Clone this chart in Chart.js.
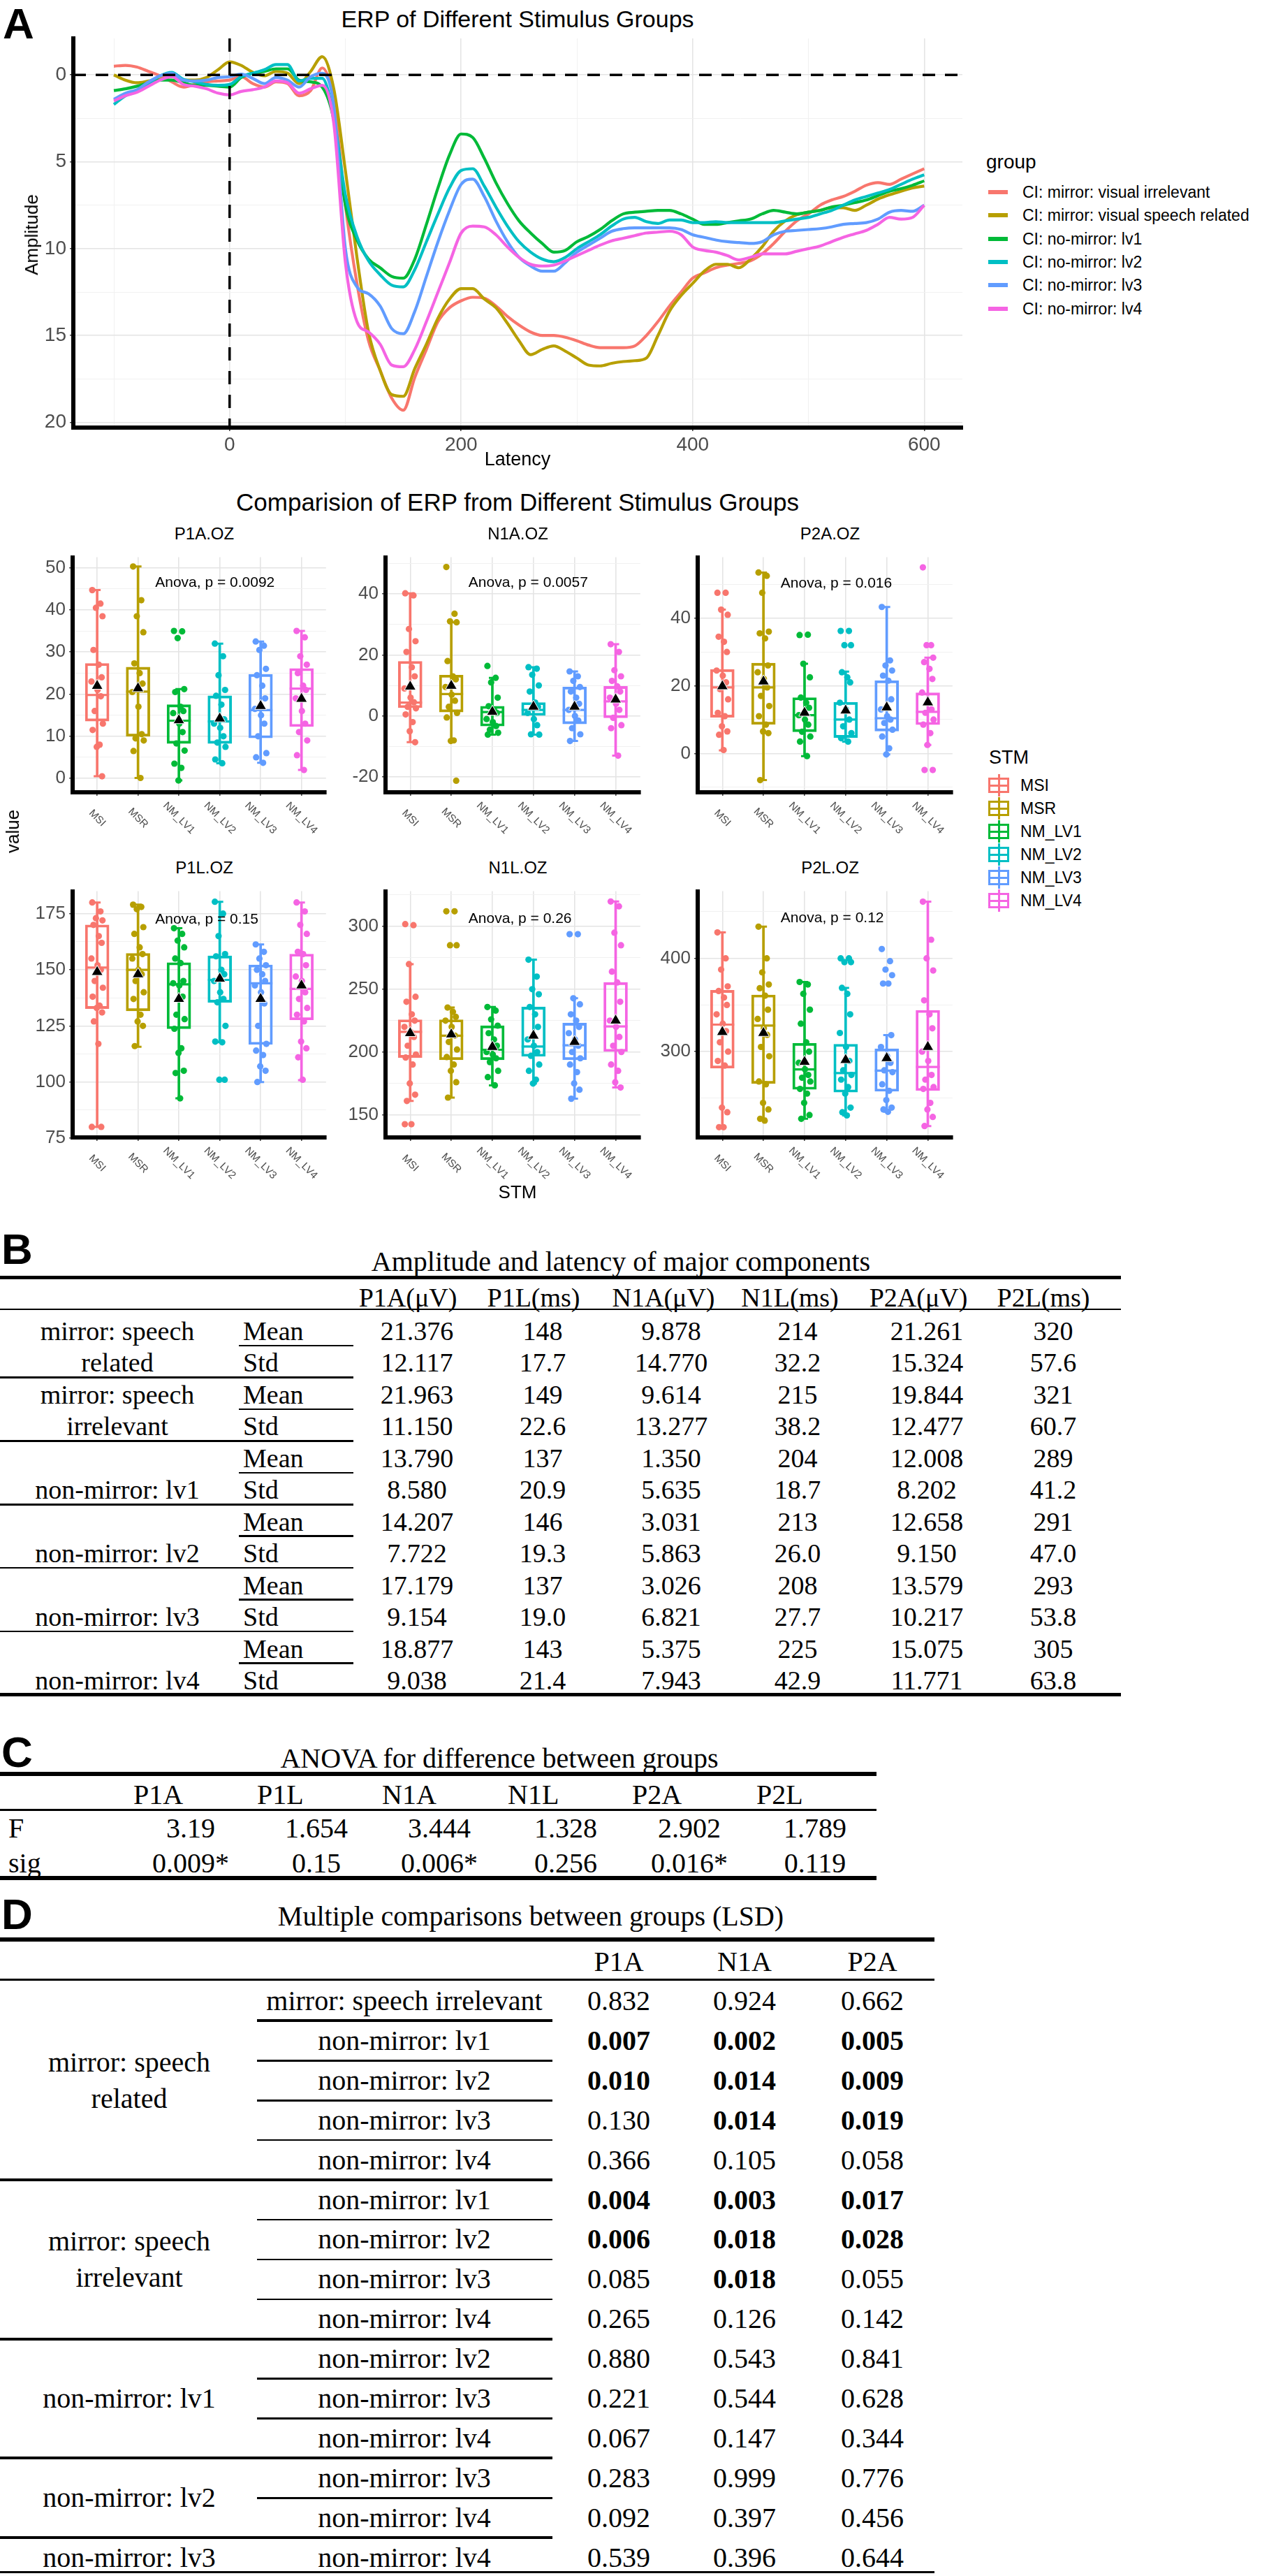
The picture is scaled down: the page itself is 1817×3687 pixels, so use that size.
<!DOCTYPE html>
<html>
<head>
<meta charset="utf-8">
<script src="https://cdn.jsdelivr.net/npm/chart.js@4.4.1/dist/chart.umd.min.js"></script>
<style>
  body { margin: 0; width: 1817px; height: 3687px; position: relative; overflow: hidden; background: #fff;
         font-family: "Liberation Sans", Arial, sans-serif; color: #000; }
  .abs { position: absolute; white-space: nowrap; line-height: 1; }
  .ser { font-family: "Liberation Serif", "Times New Roman", serif; }
  .rule { position: absolute; background: #000; }
  canvas { position: absolute; }
</style>
</head>
<body>
<script>
// ---------------- panel A data: grand average ERP ----------------
const erpTimes = [-100,-90,-80,-70,-60,-50,-40,-30,-20,-10,0,10,20,30,40,50,60,70,80,90,100,110,120,130,140,150,160,170,180,190,200,210,220,230,240,250,260,270,280,290,300,310,320,330,340,350,360,370,380,390,400,410,420,430,440,450,460,470,480,490,500,510,520,530,540,550,560,570,580,590,600];

const erpIrrelevant = [-0.5,-0.55,-0.45,-0.2,0.05,0.4,0.7,0.55,0.4,0.35,0.3,0.1,0.5,0.7,0.4,0.5,1.2,0.9,
  -0.4,1.5,7.5,12.0,15.3,17.0,18.6,19.3,
  17.4,15.8,14.2,13.4,13.0,12.8,12.85,13.3,13.9,14.4,
  14.8,15.0,15.0,15.1,15.3,15.55,15.7,15.7,15.7,15.6,
  15.0,14.2,13.3,12.5,11.7,11.4,11.1,10.95,10.85,10.7,
  10.3,9.7,9.0,8.4,8.0,7.5,7.2,7.0,6.7,6.35,
  6.2,6.3,6.0,5.7,5.4];
const erpSpeech = [0,0.3,0.45,0.35,0.25,0.1,0.3,0.3,0.15,-0.3,-0.75,-0.55,-0.15,0.05,-0.2,-0.1,0.5,-0.2,
  -1.05,0.8,5.5,10.5,14.8,17.0,18.4,18.5,
  16.9,15.5,14.0,12.9,12.3,12.3,12.9,13.4,14.3,15.3,
  16.1,15.8,15.6,15.9,16.3,16.7,16.75,16.6,16.5,16.45,
  16.3,15.0,13.6,12.7,12.0,11.3,10.9,10.9,11.1,10.6,
  9.9,9.0,8.4,8.05,7.9,7.8,7.65,7.65,7.8,7.5,
  7.15,6.9,6.7,6.5,6.4];
const erpLv1 = [0.9,0.8,0.65,0.45,0.3,0.3,0.45,0.6,0.6,0.65,0.7,0.15,-0.1,-0.2,-0.35,-0.35,0.3,0.4,
  0.7,2.6,7.5,9.5,10.6,11.1,11.6,11.7,
  10.6,8.6,6.5,4.6,3.4,3.6,4.8,6.2,7.4,8.4,
  9.1,9.7,10.2,10.1,9.6,9.3,8.9,8.4,8.0,7.9,
  7.85,7.8,7.8,8.0,8.3,8.6,8.6,8.5,8.4,8.3,
  8.0,7.8,7.9,8.0,7.9,7.8,7.6,7.5,7.35,7.2,
  6.95,6.7,6.55,6.35,6.1];
const erpLv2 = [1.7,1.2,0.95,0.5,0.05,-0.15,0.25,0.4,0.55,0.6,0.55,0.1,-0.1,-0.3,-0.6,-0.6,0.35,0.2,
  0.2,2.4,6.9,9.3,10.7,11.5,12.1,12.2,
  11.2,9.6,8.0,6.5,5.5,5.4,6.4,7.6,8.7,9.6,
  10.2,10.6,10.75,10.5,10.0,9.6,9.2,8.7,8.3,8.2,
  8.45,8.55,8.35,8.35,8.5,8.5,8.45,8.5,8.5,8.5,
  8.5,8.5,8.4,8.3,8.2,8.0,7.8,7.5,7.2,7.0,
  6.8,6.6,6.3,6.0,5.75];
const erpLv3 = [1.4,1.05,0.85,0.4,0.05,-0.1,0.3,0.35,0.3,0.15,0.1,-0.05,0.2,0.5,0.15,0.3,0.7,0.1,
  -0.1,1.8,10.0,12.2,12.6,13.3,14.6,14.9,
  13.6,11.6,9.6,7.8,6.3,6.0,7.0,8.4,9.6,10.5,
  11.0,11.3,11.3,10.8,10.2,9.8,9.4,9.0,8.85,8.8,
  8.8,8.8,8.8,8.9,9.2,9.35,9.5,9.6,9.65,9.7,
  9.6,9.2,9.0,8.95,8.9,8.85,8.75,8.6,8.55,8.5,
  8.3,7.9,7.8,7.85,7.5];
const erpLv4 = [1.5,1.2,1.0,0.65,0.3,0.1,0.55,0.65,0.8,1.05,1.15,0.95,0.85,0.7,0.35,0.45,1.05,0.8,
  0.6,2.8,10.8,14.2,14.8,15.5,16.7,16.8,
  15.8,14.2,12.5,10.8,9.1,8.7,8.75,9.2,9.9,10.5,
  10.9,11.0,10.95,10.7,10.4,10.1,9.8,9.55,9.4,9.25,
  9.1,9.05,9.0,9.2,9.9,10.1,10.2,10.4,10.65,10.5,
  10.3,10.3,10.3,10.15,10.0,9.85,9.6,9.35,9.15,8.95,
  8.6,8.2,8.3,8.2,7.5];

const erpNames = ['CI: mirror: visual irrelevant','CI: mirror: visual speech related','CI: no-mirror: lv1',
                  'CI: no-mirror: lv2','CI: no-mirror: lv3','CI: no-mirror: lv4'];
const erpSeries = [erpIrrelevant, erpSpeech, erpLv1, erpLv2, erpLv3, erpLv4];
const erpXMajor = [0,200,400,600];
const erpXMinor = [-100,100,300,500];
const erpYMajor = [0,5,10,15,20];
const erpYMinor = [2.5,7.5,12.5,17.5];

// ---------------- panel A data: box plots ----------------
const GROUPS = ['MSI','MSR','NM_LV1','NM_LV2','NM_LV3','NM_LV4'];
const COLORS = ['#F8766D','#B79F00','#00BA38','#00BFC4','#619CFF','#F564E3'];

// per group: [lower whisker, Q1, median, Q3, upper whisker, mean]
const p1aStats = [[0.5,13.6,19.8,27.3,44.7,21.96],[0.1,10.0,20.6,26.4,50.3,21.38],[-0.5,8.3,13.7,17.5,21.2,13.79],
                  [3.6,8.3,13.5,19.6,32.0,14.21],[3.7,9.6,16.2,24.7,32.5,17.18],[2.0,12.3,21.3,26.1,35.0,18.88]];
const n1aStats = [[-8.6,2.7,4.4,17.9,40.2,9.61],[-8.2,1.3,7.2,13.4,30.7,9.88],[-6.1,-3.3,1.3,3.2,12.5,1.35],
                  [-6.1,0.0,2.0,4.4,16.0,3.03],[-8.2,-2.6,2.0,9.5,14.6,3.03],[-13.0,-0.6,4.8,9.7,23.5,5.38]];
const p2aStats = [[0.9,10.7,19.5,24.8,42.5,19.84],[-7.9,8.6,19.5,26.7,53.5,21.26],[-0.8,6.4,11.3,16.5,26.5,12.01],
                  [3.5,4.7,10.0,15.1,24.2,12.66],[-0.3,6.6,10.4,21.5,43.3,13.58],[2.5,8.5,12.3,17.9,28.3,15.08]];
const p1lStats = [[80,132.7,151,170,180,149],[115.7,131.7,150,157.3,179,148],[92.7,123.7,143.5,153.2,168.5,137],
                  [117.7,135.5,145.5,156.2,180.3,146],[100,116.7,144,152.2,161.3,137],[100.8,127.7,141.5,157,180,143]];
const n1lStats = [[161,195.6,216,225.7,270,215],[163.7,193.8,213,225.7,235.4,214],[173.5,193.8,201.8,220.9,235.8,204],
                  [174.9,196.5,204.4,235.8,273.5,213],[162.8,193.8,205.3,223,242.8,208],[171.7,200.4,220.4,255.4,319.8,225]];
const p2lStats = [[219,282.3,329,365.8,427.8,321],[228,265.8,328,360.8,434,320],[228,259.5,281,308.9,374.7,289],
                  [231.6,256.5,277,308,368.4,291],[235.5,257.5,279.7,303,317.7,293],[220.2,258.2,283.5,344.3,460.8,305]];

// individual subjects, per group
const p1aPts = [
  [44.7,41.5,40.5,38.5,30.5,27,24,23,21,19.5,16,13,11.5,8,7.5,0.5],
  [50.3,42.3,38.5,34.7,27.3,25,22.5,20.5,17,10.5,9.5,9,6.5,0.1],
  [35,34.9,33.3,21.2,20.5,17,16,15.5,13,11,8.3,6.6,3.5,2.5,-0.5],
  [32,29,24.5,21,19.6,17.5,14,13,12,10,8.5,7.5,4.5,3.6],
  [32.5,31.5,30.5,26,24.5,22,19,16.5,15,13,10,6,5,3.7],
  [35,33.5,29,27,25,22,21,19,16,13,11,9,5.5,2]];
const n1aPts = [
  [40.2,39.5,28.5,24.5,21,16,13,9,6,4.5,3,2.5,0.5,-2,-5,-8.6],
  [48.8,33.5,31,30.7,18,13,12,9.5,7,5,3,1,-0.5,-8,-8.2,-21.2],
  [16.4,12.5,11,6,3.2,2,1,-1,-2,-3.3,-4.5,-5.5,-6.1],
  [16,15.5,13.5,10,8,4.4,3,1,-1,-3,-6,-6.1],
  [14.6,13,11.5,9.5,8,6,4,2,0,-1.5,-4,-6,-8.2],
  [23.5,21,15,13,11.5,9.7,8,6,4,2,-0.6,-3,-4,-13]];
const p2aPts = [
  [47.5,47.5,42.5,41,34.5,33,30,24.5,23,21,19,16,12,11,8,6.5,5.5,1],
  [53.5,52.5,47.5,36,35.5,34,26,24,22,19.5,17,14,11,8.5,6.5,6,-7.9],
  [35,35.1,26.5,22.5,16.5,15,13.5,11.3,10,8.5,6.4,5,3.5,-0.8],
  [36.2,36.2,32,32,24,22.5,21,15,13,10,8,6,4.5,3.5],
  [43.3,27.5,26,24.5,23,21.5,16,13,11,10,9,7,5,1.5,-0.3],
  [55,32,32,28.3,27,25,22,18,15,13,12,10,8.5,6,2.5,-4.9,-4.9]];
const p1lPts = [
  [180,176,173,172,170,165,162,155,152,150,145,142,138,134,133,131,127,117,80,80],
  [179,178,177,169,166,160,157,155,150,148,145,140,137,130,127,125,116],
  [168.5,166,163,160,155,153,145,144,143,138,130,128,123.7,115,113,105,104,92.7],
  [180.3,175,165,157,156,150,148,145,140,137,135.5,125,118,117.7,101,101],
  [161.3,158,155,152,150,148,145,143,140,135,125,117,114,112,107,105,100],
  [180,176,170,166,158,157,152,147,145,140,137,133,130,127,118,115,111,101]];
const n1lPts = [
  [301.8,301,270,244,240,230,225,220,216,212,205,198,195.6,190,175,166,161,142.5,142.5],
  [312,312,285,285,235.4,232,228,225,220,213,208,202,196,190,185,176,163.7],
  [235.8,233,226,221,215,210,205,200,198,195,192,185,180,173.5],
  [273.5,260,250,246,235.8,230,220,210,205,200,197,190,185,178,174.9],
  [293.8,293.8,242.8,238,230,225,220,215,210,205,200,195,190,184,175,170,162.8],
  [319.8,316,295,285,264,255.4,240,225,220,212,205,200,190,185,176,171.7]];
const p2lPts = [
  [427.8,400,388,370,365,358,350,340,330,322,310,300,290,285,240,235,219,219],
  [434,400,385,372,368,360,345,335,325,318,305,295,268,265,245,238,228,226],
  [374.7,372,362,345,330,310,300,288,281,275,272,268,260,255,245,232,228],
  [400,400,396,396,368.4,362,340,320,305,290,280,275,270,262,255,240,235,231.6],
  [410,397,388,382,373,373,317.7,305,295,288,280,278,265,258,248,240,238,235.5],
  [460.8,420,400,387,355,340,325,300,290,275,270,262,260,245,238,230,220.2]];

const panelNames = ['P1A.OZ','N1A.OZ','P2A.OZ','P1L.OZ','N1L.OZ','P2L.OZ'];
const anovaText = ['Anova, p = 0.0092','Anova, p = 0.0057','Anova, p = 0.016','Anova, p = 0.15','Anova, p = 0.26','Anova, p = 0.12'];
const anovaAt = [46.5, 43.7, 50.3, 172.5, 306, 443];
const yMajors = [[0,10,20,30,40,50],[-20,0,20,40],[0,20,40],[75,100,125,150,175],[150,200,250,300],[300,400]];
const yMinors = [[5,15,25,35,45],[-10,10,30,50],[-10,10,30,50],[87.5,112.5,137.5,162.5],[175,225,275,325],[250,350,450]];

// ---------------- tables ----------------
const tbHead = ['P1A(μV)','P1L(ms)','N1A(μV)','N1L(ms)','P2A(μV)','P2L(ms)'];
const tbGroups = [['mirror: speech','related'],['mirror: speech','irrelevant'],['non-mirror: lv1'],['non-mirror: lv2'],['non-mirror: lv3'],['non-mirror: lv4']];
const tbMean = [
  ['21.376','148','9.878','214','21.261','320'],
  ['21.963','149','9.614','215','19.844','321'],
  ['13.790','137','1.350','204','12.008','289'],
  ['14.207','146','3.031','213','12.658','291'],
  ['17.179','137','3.026','208','13.579','293'],
  ['18.877','143','5.375','225','15.075','305']];
const tbStd = [
  ['12.117','17.7','14.770','32.2','15.324','57.6'],
  ['11.150','22.6','13.277','38.2','12.477','60.7'],
  ['8.580','20.9','5.635','18.7','8.202','41.2'],
  ['7.722','19.3','5.863','26.0','9.150','47.0'],
  ['9.154','19.0','6.821','27.7','10.217','53.8'],
  ['9.038','21.4','7.943','42.9','11.771','63.8']];

const tcHead = ['P1A','P1L','N1A','N1L','P2A','P2L'];
const tcF = ['3.19','1.654','3.444','1.328','2.902','1.789'];
const tcSig = ['0.009*','0.15','0.006*','0.256','0.016*','0.119'];

const tdHead = ['P1A','N1A','P2A'];
const tdGroups = [['mirror: speech','related'],['mirror: speech','irrelevant'],['non-mirror: lv1'],['non-mirror: lv2'],['non-mirror: lv3']];
const tdGroupSize = [5,4,3,2,1];
const tdComp = ['mirror: speech irrelevant','non-mirror: lv1','non-mirror: lv2','non-mirror: lv3','non-mirror: lv4',
                'non-mirror: lv1','non-mirror: lv2','non-mirror: lv3','non-mirror: lv4',
                'non-mirror: lv2','non-mirror: lv3','non-mirror: lv4',
                'non-mirror: lv3','non-mirror: lv4',
                'non-mirror: lv4'];
const tdVals = [
  ['0.832','0.924','0.662'],['0.007','0.002','0.005'],['0.010','0.014','0.009'],['0.130','0.014','0.019'],['0.366','0.105','0.058'],
  ['0.004','0.003','0.017'],['0.006','0.018','0.028'],['0.085','0.018','0.055'],['0.265','0.126','0.142'],
  ['0.880','0.543','0.841'],['0.221','0.544','0.628'],['0.067','0.147','0.344'],
  ['0.283','0.999','0.776'],['0.092','0.397','0.456'],
  ['0.539','0.396','0.644']];
const tdBold = [
  [0,0,0],[1,1,1],[1,1,1],[0,1,1],[0,0,0],
  [1,1,1],[1,1,1],[0,1,0],[0,0,0],
  [0,0,0],[0,0,0],[0,0,0],
  [0,0,0],[0,0,0],
  [0,0,0]];

// ---------------- helpers ----------------
function txt(s, x, y, o) {
  o = o || {};
  const d = document.createElement('div');
  d.className = 'abs' + (o.serif ? ' ser' : '');
  d.textContent = s;
  d.style.left = x + 'px';
  d.style.top = y + 'px';
  d.style.fontSize = (o.size || 24) + 'px';
  if (o.bold) d.style.fontWeight = 'bold';
  if (o.color) d.style.color = o.color;
  const ax = o.align === 'left' ? '0' : (o.align === 'right' ? '-100%' : '-50%');
  d.style.transform = 'translate(' + ax + ',-50%)' + (o.rot ? ' rotate(' + o.rot + 'deg)' : '');
  document.body.appendChild(d);
  return d;
}
function rule(x1, x2, y, w) {
  const d = document.createElement('div');
  d.className = 'rule';
  d.style.left = x1 + 'px';
  d.style.top = (y - w / 2) + 'px';
  d.style.width = (x2 - x1) + 'px';
  d.style.height = w + 'px';
  document.body.appendChild(d);
}
function gridOpts(major) {
  const isMaj = c => c.tick && major.includes(c.tick.value);
  return {
    color: c => isMaj(c) ? '#e4e4e4' : '#f1f1f1',
    lineWidth: c => isMaj(c) ? 1.6 : 1,
    tickColor: c => isMaj(c) ? '#444' : 'rgba(0,0,0,0)',
    tickLength: 5,
    drawTicks: true
  };
}
function setTicks(major, minor) {
  return s => { s.ticks = major.concat(minor).sort((a, b) => a - b).map(v => ({ value: v })); };
}

Chart.defaults.font.family = '"Liberation Sans", Arial, sans-serif';

// ---------------- A: ERP line chart ----------------
txt('A', 4, 34, { size: 62, bold: true, align: 'left' });
txt('ERP of Different Stimulus Groups', 741, 27, { size: 34 });

const erpCanvas = document.createElement('canvas');
erpCanvas.width = 1400; erpCanvas.height = 680;
erpCanvas.style.left = '0px'; erpCanvas.style.top = '0px';
document.body.appendChild(erpCanvas);

const X_MIN = -135, X_MAX = 633, Y_MIN = -2.1, Y_MAX = 20.3;
const erpDatasets = erpSeries.map((ser, i) => ({
  data: erpTimes.map((t, k) => ({ x: t, y: ser[k] })),
  borderColor: COLORS[i],
  borderWidth: 4.2,
  pointRadius: 0,
  cubicInterpolationMode: 'monotone',
  order: 6 - i
}));
erpDatasets.push({
  data: [{ x: X_MIN, y: 0 }, { x: X_MAX, y: 0 }],
  borderColor: '#000', borderWidth: 3.5, borderDash: [18, 14], pointRadius: 0, order: 0
});
erpDatasets.push({
  data: [{ x: 0, y: Y_MIN }, { x: 0, y: Y_MAX }],
  borderColor: '#000', borderWidth: 3.5, borderDash: [19, 15], pointRadius: 0, order: 0
});

new Chart(erpCanvas, {
  type: 'line',
  data: { datasets: erpDatasets },
  options: {
    responsive: false,
    animation: false,
    layout: { padding: { top: 55, right: 22, left: 0, bottom: 0 } },
    plugins: { legend: { display: false }, tooltip: { enabled: false } },
    scales: {
      x: {
        type: 'linear', min: X_MIN, max: X_MAX,
        afterBuildTicks: setTicks(erpXMajor, erpXMinor),
        afterFit: s => { s.height = 68; },
        border: { color: '#000', width: 6 },
        grid: gridOpts(erpXMajor),
        ticks: {
          autoSkip: false, maxRotation: 0, padding: 3, color: '#4d4d4d', font: { size: 28 },
          callback: v => erpXMajor.includes(v) ? String(v) : ''
        }
      },
      y: {
        reverse: true, min: Y_MIN, max: Y_MAX,
        afterBuildTicks: setTicks(erpYMajor, erpYMinor),
        afterFit: s => { s.width = 105; },
        border: { color: '#000', width: 6 },
        grid: gridOpts(erpYMajor),
        ticks: {
          autoSkip: false, padding: 5, color: '#4d4d4d', font: { size: 28 },
          callback: v => erpYMajor.includes(v) ? String(v) : ''
        }
      }
    }
  }
});
txt('Amplitude', 45, 336, { size: 26, rot: -90 });
txt('Latency', 741, 657, { size: 27 });

// legend "group"
txt('group', 1412, 232, { size: 28, align: 'left' });
erpNames.forEach((n, i) => {
  const y = 275 + i * 33.3;
  const k = document.createElement('div');
  k.style.cssText = 'position:absolute;left:1415px;width:28px;height:6px;top:' + (y - 3) + 'px;background:' + COLORS[i];
  document.body.appendChild(k);
  txt(n, 1464, y, { size: 23, align: 'left' });
});

// ---------------- A: box plot panels ----------------
txt('Comparision of ERP from Different Stimulus Groups', 741, 718, { size: 35 });
const panelStats = [p1aStats, n1aStats, p2aStats, p1lStats, n1lStats, p2lStats];
const panelPts = [p1aPts, n1aPts, p2aPts, p1lPts, n1lPts, p2lPts];
const COLS = [[104, 481], [552, 931], [999, 1378]];
const ROWS = [[783, 1134], [1261, 1628]];
const Y_RANGE = [[-3.3, 52.5], [-25, 52], [-11.5, 58], [75.3, 185], [132, 328], [208, 472]];
const JIT = [-0.12, 0.08, -0.03, 0.13, -0.09, 0.04, 0.11, -0.14, 0.01, 0.09, -0.06, 0.14, -0.11, 0.06, -0.01, 0.12, -0.08, 0.03, -0.13, 0.1];
const catMajor = [1, 2, 3, 4, 5, 6];

const boxText = {
  id: 'boxText',
  afterDraw(chart, args, opts) {
    const { ctx, chartArea, scales } = chart;
    ctx.save();
    ctx.fillStyle = '#4d4d4d';
    ctx.font = '15px "Liberation Sans", Arial, sans-serif';
    ctx.textAlign = 'center';
    ctx.textBaseline = 'middle';
    GROUPS.forEach((g, i) => {
      ctx.save();
      ctx.translate(scales.x.getPixelForValue(i + 1), chartArea.bottom + 37);
      ctx.rotate(Math.PI / 4);
      ctx.fillText(g, 0, 0);
      ctx.restore();
    });
    ctx.fillStyle = '#000';
    ctx.font = '21px "Liberation Sans", Arial, sans-serif';
    ctx.textAlign = 'left';
    ctx.fillText(opts.label, scales.x.getPixelForValue(2.42), scales.y.getPixelForValue(opts.at));
    ctx.restore();
  }
};

function boxPanel(i) {
  const [L, R] = COLS[i % 3];
  const [T, B] = ROWS[Math.floor(i / 3)];
  const padL = 75, padB = 75, padT = 6, padR = 6;
  const cv = document.createElement('canvas');
  cv.width = R - L + padL + padR;
  cv.height = B - T + padB + padT;
  cv.style.left = (L - padL) + 'px';
  cv.style.top = (T - padT) + 'px';
  document.body.appendChild(cv);

  const stats = panelStats[i], pts = panelPts[i];
  const whisk = [], boxes = [], meds = [], caps = [], means = [], dots = [];
  stats.forEach((s, g) => {
    const x = g + 1;
    whisk.push({ x, y: [s[0], s[4]] });
    boxes.push({ x, y: [s[1], s[3]] });
    meds.push({ x, y: s[2] });
    caps.push({ x, y: s[0] }, { x, y: s[4] });
    means.push({ x, y: s[5] });
    pts[g].forEach((v, k) => dots.push({ x: x + JIT[k % JIT.length], y: v }));
  });
  const col = c => COLORS[Math.round(c.raw.x) - 1];

  new Chart(cv, {
    type: 'bar',
    data: {
      datasets: [
        { type: 'bar', data: whisk, backgroundColor: col, borderWidth: 0, barThickness: 3, grouped: false, order: 6 },
        { type: 'bar', data: boxes, backgroundColor: 'rgba(255,255,255,0)', borderColor: col, borderWidth: 3.2,
          borderSkipped: false, barThickness: 34, grouped: false, order: 5 },
        { type: 'scatter', data: meds, pointStyle: 'line', pointRadius: 17, borderColor: col, borderWidth: 3.2, order: 4 },
        { type: 'scatter', data: caps, pointStyle: 'line', pointRadius: 5, borderColor: col, borderWidth: 3, order: 4 },
        { type: 'scatter', data: dots, pointRadius: 4.6, backgroundColor: col, borderWidth: 0, order: 2 },
        { type: 'scatter', data: means, pointStyle: 'triangle', pointRadius: 9.5, backgroundColor: '#000',
          borderColor: '#fff', borderWidth: 1, order: 1 }
      ]
    },
    options: {
      responsive: false,
      animation: false,
      layout: { padding: { top: padT, right: padR, left: 0, bottom: 0 } },
      plugins: { legend: { display: false }, tooltip: { enabled: false },
                 boxText: { label: anovaText[i], at: anovaAt[i] } },
      scales: {
        x: {
          type: 'linear', min: 0.4, max: 6.6, offset: false,
          afterBuildTicks: s => { s.ticks = catMajor.map(v => ({ value: v })); },
          afterFit: s => { s.height = padB; },
          border: { color: '#000', width: 6 },
          grid: Object.assign(gridOpts(catMajor), { offset: false }),
          ticks: { display: false }
        },
        y: {
          min: Y_RANGE[i][0], max: Y_RANGE[i][1],
          afterBuildTicks: setTicks(yMajors[i], yMinors[i]),
          afterFit: s => { s.width = padL; },
          border: { color: '#000', width: 6 },
          grid: gridOpts(yMajors[i]),
          ticks: { autoSkip: false, padding: 5, color: '#4d4d4d', font: { size: 26 },
                   callback: v => yMajors[i].includes(v) ? String(v) : '' }
        }
      }
    },
    plugins: [boxText]
  });
  txt(panelNames[i], (L + R) / 2, T - 19, { size: 24 });
}
for (let i = 0; i < 6; i++) boxPanel(i);

txt('value', 18, 1190, { size: 26, rot: -90 });
txt('STM', 741, 1706, { size: 26 });

// legend "STM"
txt('STM', 1416, 1084, { size: 27, align: 'left' });
GROUPS.forEach((g, i) => {
  const y = 1124 + i * 33;
  const wrap = document.createElement('div');
  wrap.style.cssText = 'position:absolute;left:1415px;top:' + (y - 16) + 'px;width:30px;height:32px;';
  wrap.innerHTML =
    '<div style="position:absolute;left:13.5px;top:0;width:3px;height:32px;background:' + COLORS[i] + '"></div>' +
    '<div style="position:absolute;left:0;top:5px;width:24px;height:16px;border:3px solid ' + COLORS[i] + '"></div>' +
    '<div style="position:absolute;left:3px;top:14.5px;width:24px;height:3px;background:' + COLORS[i] + '"></div>';
  document.body.appendChild(wrap);
  txt(g, 1461, y, { size: 23, align: 'left' });
});

// ---------------- B: table ----------------
txt('B', 2, 1788, { size: 62, bold: true, align: 'left' });
txt('Amplitude and latency of major components', 889, 1806, { size: 40, serif: true });
rule(0, 1605, 1828, 5);
const tbHeadX = [584, 764, 950, 1131, 1315, 1494];
const tbValX = [597, 777, 961, 1142, 1327, 1508];
tbHead.forEach((h, c) => txt(h, tbHeadX[c], 1857, { size: 38, serif: true }));
rule(0, 1605, 1874, 2.5);
const TB_Y0 = 1905, TB_DY = 45.45;
tbGroups.forEach((g, gi) => {
  const yM = TB_Y0 + gi * 2 * TB_DY, yS = yM + TB_DY;
  if (g.length === 2) {
    txt(g[0], 168, yM, { size: 38, serif: true });
    txt(g[1], 168, yS, { size: 38, serif: true });
  } else {
    txt(g[0], 168, yS, { size: 38, serif: true });
  }
  txt('Mean', 348, yM, { size: 38, serif: true, align: 'left' });
  txt('Std', 348, yS, { size: 38, serif: true, align: 'left' });
  tbMean[gi].forEach((v, c) => txt(v, tbValX[c], yM, { size: 38, serif: true }));
  tbStd[gi].forEach((v, c) => txt(v, tbValX[c], yS, { size: 38, serif: true }));
  rule(342, 506, yM + 21, 2.5);
  if (gi < tbGroups.length - 1) rule(0, 506, yS + 21, 2.5);
});
rule(0, 1605, 2425, 5);

// ---------------- C: table ----------------
txt('C', 2, 2508, { size: 62, bold: true, align: 'left' });
txt('ANOVA for difference between groups', 715, 2517, { size: 40, serif: true });
rule(0, 1255, 2539, 6);
const tcHeadX = [191, 368, 547, 727, 905, 1083];
const tcValX = [273, 453, 629, 810, 987, 1167];
tcHead.forEach((h, c) => txt(h, tcHeadX[c], 2569, { size: 40, serif: true, align: 'left' }));
rule(0, 1255, 2590, 3);
txt('F', 12, 2617, { size: 40, serif: true, align: 'left' });
txt('sig', 12, 2667, { size: 40, serif: true, align: 'left' });
tcF.forEach((v, c) => txt(v, tcValX[c], 2617, { size: 40, serif: true }));
tcSig.forEach((v, c) => txt(v, tcValX[c], 2667, { size: 40, serif: true }));
rule(0, 1255, 2688, 6);

// ---------------- D: table ----------------
txt('D', 2, 2740, { size: 62, bold: true, align: 'left' });
txt('Multiple comparisons between groups (LSD)', 760, 2743, { size: 40, serif: true });
rule(0, 1338, 2776, 6);
const tdColX = [886, 1066, 1249];
tdHead.forEach((h, c) => txt(h, tdColX[c], 2808, { size: 40, serif: true }));
rule(0, 1338, 2833, 3);
const TD_Y0 = 2864, TD_DY = 56.9;
let row = 0;
tdGroups.forEach((g, gi) => {
  const n = tdGroupSize[gi];
  const mid = TD_Y0 + (row + (n - 1) / 2) * TD_DY;
  if (g.length === 2) {
    txt(g[0], 185, mid - 26, { size: 40, serif: true });
    txt(g[1], 185, mid + 26, { size: 40, serif: true });
  } else {
    txt(g[0], 185, mid, { size: 40, serif: true });
  }
  for (let k = 0; k < n; k++, row++) {
    const y = TD_Y0 + row * TD_DY;
    txt(tdComp[row], 579, y, { size: 40, serif: true });
    tdVals[row].forEach((v, c) => txt(v, tdColX[c], y, { size: 40, serif: true, bold: !!tdBold[row][c] }));
    if (k < n - 1) rule(368, 791, y + TD_DY / 2, row === 0 ? 4 : 2.5);
    else if (gi < tdGroups.length - 1) rule(0, 791, y + TD_DY / 2, 4);
  }
});
rule(0, 1338, 3681, 3);
</script>
</body>
</html>
